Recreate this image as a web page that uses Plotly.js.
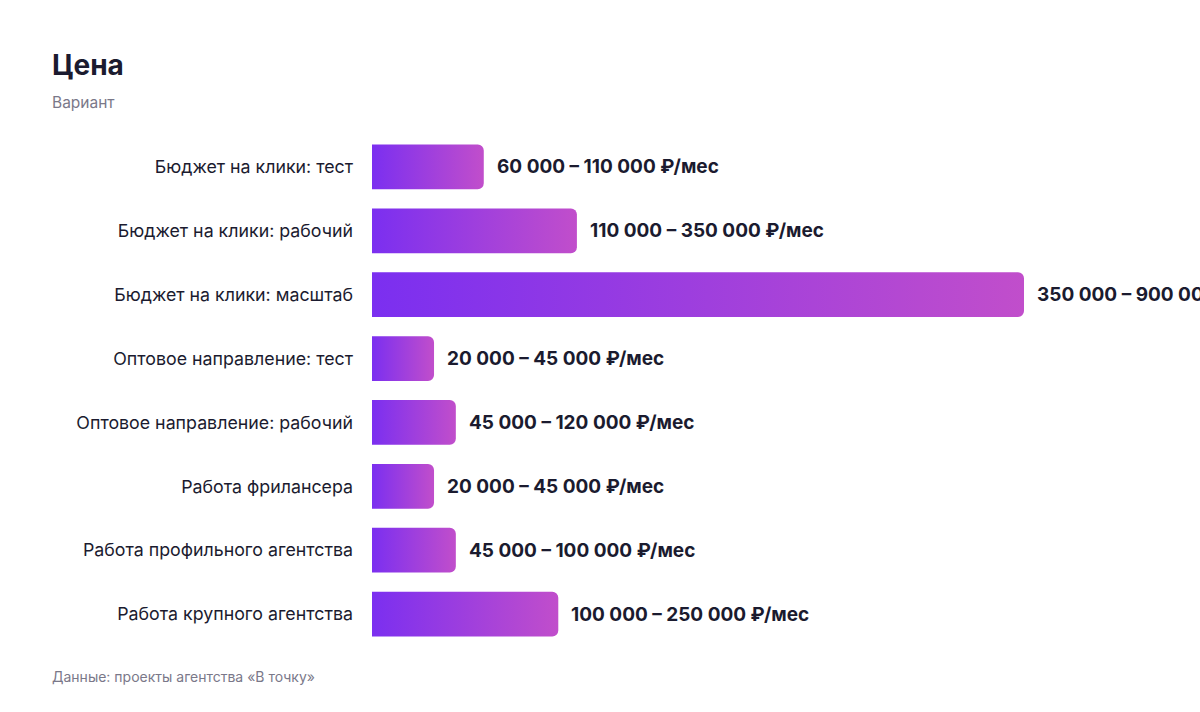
<!DOCTYPE html>
<html>
<head>
<meta charset="utf-8">
<script src="https://cdn.plot.ly/plotly-3.0.1.min.js"></script>
<style>
html,body{margin:0;padding:0;background:#fff;}
#chart{width:1200px;height:712px;}
</style>
</head>
<body>
<div id="chart"></div>
<script>
const categories = [
  "Бюджет на клики: тест",
  "Бюджет на клики: рабочий",
  "Бюджет на клики: масштаб",
  "Оптовое направление: тест",
  "Оптовое направление: рабочий",
  "Работа фрилансера",
  "Работа профильного агентства",
  "Работа крупного агентства"
];
const lowPrice  = [60000, 110000, 350000, 20000, 45000, 20000, 45000, 100000];
const highPrice = [110000, 350000, 900000, 45000, 120000, 45000, 100000, 250000];
const minBar = 33300; // smallest drawn bar length seen in the picture

function fmt(n){ return String(n).replace(/\B(?=(\d{3})+(?!\d))/g, "\u00a0"); }
const labels = lowPrice.map((v,i)=> fmt(v) + " – " + fmt(highPrice[i]) + " ₽/мес");
const barLen = lowPrice.map(v => Math.max(v, minBar));

const dark = "#1b1b2f";
const gray = "#7a7889";
const font = "Inter, 'Liberation Sans', Arial, sans-serif";

const trace = {
  type: "bar",
  orientation: "h",
  y: categories,
  x: barLen,
  marker: {color: "#7c3aed", cornerradius: 6, line: {width: 0}},
  hoverinfo: "skip",
  showlegend: false
};

const annotations = categories.map((c,i)=>({
  x: barLen[i], y: c, xref: "x", yref: "y",
  text: labels[i], showarrow: false, xanchor: "left", yanchor: "middle",
  xshift: 11, font: {family: font, size: 19, color: dark, weight: 700}
}));
annotations.push({
  xref: "paper", yref: "paper", x: (52-372)/652, y: (646-102)/511,
  xanchor: "left", yanchor: "middle", showarrow: false, xshift: -2,
  text: "Вариант", font: {family: font, size: 15.5, color: gray}
});
annotations.push({
  xref: "paper", yref: "paper", x: (52-372)/652, y: (646-676)/511,
  xanchor: "left", yanchor: "middle", showarrow: false, xshift: -2,
  text: "Данные: проекты агентства «В точку»", font: {family: font, size: 14, color: gray}
});

const layout = {
  width: 1200, height: 712,
  paper_bgcolor: "#fff", plot_bgcolor: "#fff",
  margin: {l: 372, r: 176, t: 135, b: 66},
  title: {
    text: "<b>Цена</b>", xref: "container", yref: "container",
    x: 52/1200, y: 1 - 65/712, xanchor: "left", yanchor: "middle",
    font: {family: font, size: 28, color: dark}
  },
  bargap: 0.3,
  xaxis: {range: [0, 350000], visible: false, fixedrange: true},
  yaxis: {
    autorange: "reversed", showgrid: false, zeroline: false, showline: false,
    ticks: "", ticklabelstandoff: 18,
    tickfont: {family: font, size: 17.8, color: dark}
  },
  annotations: annotations
};

Plotly.newPlot("chart", [trace], layout, {displayModeBar: false, staticPlot: true}).then(gd => {
  const svg = gd.querySelector("svg.main-svg");
  const ns = "http://www.w3.org/2000/svg";
  let defs = svg.querySelector("defs");
  if (!defs) { defs = document.createElementNS(ns, "defs"); svg.insertBefore(defs, svg.firstChild); }
  const g = document.createElementNS(ns, "linearGradient");
  g.setAttribute("id", "barGrad");
  g.setAttribute("x1", "0"); g.setAttribute("y1", "0");
  g.setAttribute("x2", "1"); g.setAttribute("y2", "0");
  [["0%", "#7b2ff0"], ["100%", "#c14ecb"]].forEach(([o, c]) => {
    const s = document.createElementNS(ns, "stop");
    s.setAttribute("offset", o); s.setAttribute("stop-color", c);
    g.appendChild(s);
  });
  defs.appendChild(g);
  gd.querySelectorAll(".barlayer .point path").forEach(p => {
    p.style.fill = "url(#barGrad)";
    p.style.fillOpacity = 1;
  });
});
</script>
</body>
</html>
